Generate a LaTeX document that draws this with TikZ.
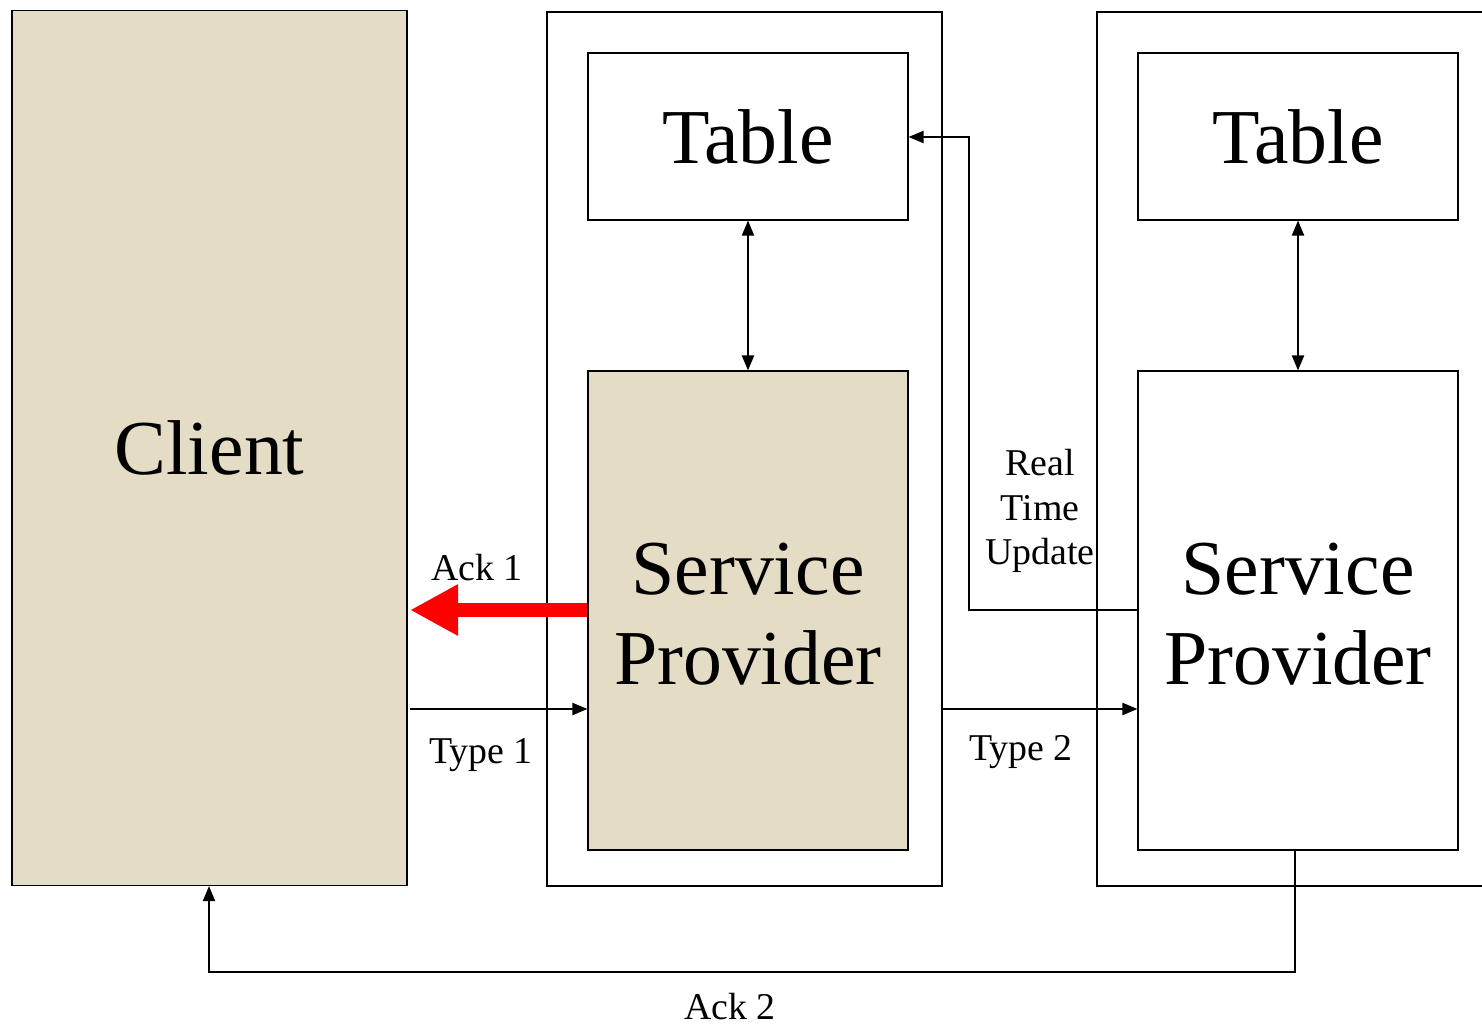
\documentclass[tikz,border=0pt]{standalone}
\usepackage{fontspec}
\setmainfont{Liberation Serif}
\usetikzlibrary{arrows.meta}
\definecolor{beige}{HTML}{E5DCC6}
\tikzset{
  box/.style={draw=black, line width=1.1bp, inner sep=0pt, anchor=center},
  big/.style={font=\fontsize{78}{90}\selectfont, align=center},
  small/.style={font=\fontsize{38}{45}\selectfont, align=center, inner sep=0pt},
  conn/.style={draw=black, line width=2bp},
  tip/.style={-{Triangle[length=15bp,width=12bp]}},
  tips/.style={{Triangle[length=15bp,width=12bp]}-{Triangle[length=15bp,width=12bp]}},
}
\begin{document}
\begin{tikzpicture}[x=1bp,y=-1bp]
\useasboundingbox (0,0) rectangle (1482,1027);
\clip (0,0) rectangle (1482,1027);
% outer boxes
\node[box, minimum width=395bp, minimum height=874bp] (Outer1) at (744.5,449) {};
\node[box, minimum width=400bp, minimum height=874bp] (Outer2) at (1297,449) {};
% client
\node[box, fill=beige, minimum width=395bp, minimum height=875bp, big] (Client) at (209.5,448) {Client};
% tables
\node[box, minimum width=320bp, minimum height=167bp, big] (Table1) at (748,136.5) {Table};
\node[box, minimum width=320bp, minimum height=167bp, big] (Table2) at (1298,136.5) {Table};
% service providers
\node[box, fill=beige, minimum width=320bp, minimum height=479bp] (SP1) at (748,610.5) {};
\node[big] (SP1t) at (748,614) {Service\\Provider};
\node[box, minimum width=320bp, minimum height=479bp] (SP2) at (1298,610.5) {};
\node[big] (SP2t) at (1298,614) {Service\\Provider};
% table <-> sp
\draw[conn, tips] (Table1.south) -- (SP1.north);
\draw[conn, tips] (Table2.south) -- (SP2.north);
% ack1 red arrow
\coordinate (ack1end) at (410,610);
\draw[red, line width=14bp, -{Triangle[length=48bp,width=48bp]}] (SP1.west |- ack1end) -- (ack1end);
\node[small] (ack1) at (477,568) {Ack 1};
% type 1
\coordinate (t1start) at (410,709);
\draw[conn, tip] (t1start) -- (SP1.west |- t1start);
\node[small] (type1) at (481,755) {Type 1};
% type 2
\coordinate (t2start) at (942,709);
\draw[conn, tip] (Outer1.east |- t2start) -- (SP2.west |- t2start);
\node[small] (type2) at (1021,752) {Type 2};
% real time update
\coordinate (rtA) at (969,610);
\coordinate (rtB) at (969,137);
\draw[conn, tip] (SP2.west |- rtA) -- (rtA) -- (rtB) -- (Table1.east |- rtB);
\node[small] (rtu) at (1040,511) {Real\\Time\\Update};
% ack 2
\coordinate (a2A) at (1295,972);
\coordinate (a2B) at (209,972);
\draw[conn, tip] (SP2.south -| a2A) -- (a2A) -- (a2B) -- (Client.south -| a2B);
\node[small] (ack2) at (730,1007) {Ack 2};
\end{tikzpicture}
\end{document}
